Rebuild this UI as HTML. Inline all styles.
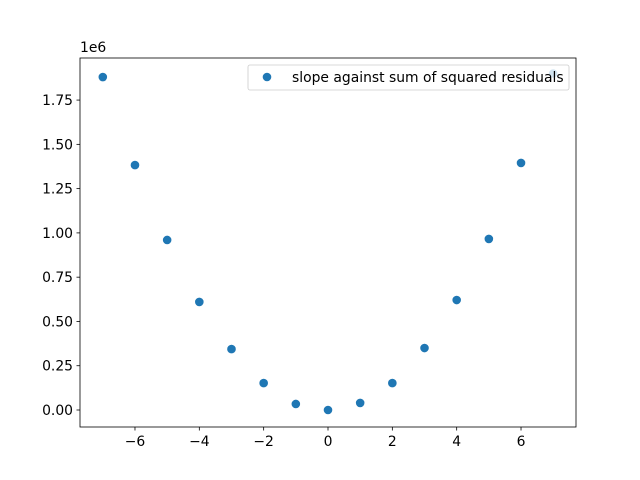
<!DOCTYPE html>
<html><head><meta charset="utf-8"><style>body{margin:0;background:#fff}svg{display:block;font-family:"DejaVu Sans","Liberation Sans",sans-serif}</style></head>
<body>
<svg id="c" width="640" height="480"></svg>
<script>
const xValues=[-7,-6,-5,-4,-3,-2,-1,0,1,2,3,4,5,6,7];
const yValues=[1.88,1.383,0.96,0.61,0.344,0.152,0.034,0.0,0.04,0.152,0.35,0.621,0.966,1.395,1.9];
const xTicks=[-6,-4,-2,0,2,4,6];
const xTickLabels=["−6","−4","−2","0","2","4","6"];
const yTicks=[0,0.25,0.5,0.75,1.0,1.25,1.5,1.75];
const yTickLabels=["0.00","0.25","0.50","0.75","1.00","1.25","1.50","1.75"];
const NS="http://www.w3.org/2000/svg";
const svg=document.getElementById('c');
const L=80,R=576,T=58,B=427;
const FS=13.9;
const sx=v=>328+v*32.17;
const sy=v=>410-v*177.1;
function el(t,a,p){const e=document.createElementNS(NS,t);for(const k in a)e.setAttribute(k,a[k]);(p||svg).appendChild(e);return e;}
const frame=el('rect',{x:L,y:T,width:R-L,height:B-T,fill:'none',stroke:'#000','stroke-width':0.8});


xTicks.forEach((t,i)=>{
 const g=el('g',{});
 
 
 el('line',{x1:sx(t),x2:sx(t),y1:B,y2:B+3.5,stroke:'#000','stroke-width':0.8},g);
 const tx=el('text',{x:sx(t),y:B+19,'font-size':FS,'text-anchor':'middle'},g);tx.textContent=xTickLabels[i];
});
yTicks.forEach((t,i)=>{
 const g=el('g',{});
 
 
 el('line',{x1:L-3.5,x2:L,y1:sy(t),y2:sy(t),stroke:'#000','stroke-width':0.8},g);
 const tx=el('text',{x:L-7,y:sy(t)+5,'font-size':FS,'text-anchor':'end'},g);tx.textContent=yTickLabels[i];
});
const off=el('text',{x:L,y:T-6,'font-size':FS});off.textContent='1e6';


xValues.forEach((x,i)=>{
 const c=el('circle',{cx:sx(x),cy:sy(yValues[i]),r:4.3,fill:'#1f77b4'});
 
 
});
const lg=el('g',{});


el('rect',{x:248,y:65,width:321,height:25,rx:2,fill:'#fff','fill-opacity':0.8,stroke:'#ccc','stroke-width':0.8},lg);
el('circle',{cx:267,cy:77,r:4.3,fill:'#1f77b4'},lg);
const lt=el('text',{x:292,y:82,'font-size':FS},lg);lt.textContent='slope against sum of squared residuals';
</script>
</body></html>
